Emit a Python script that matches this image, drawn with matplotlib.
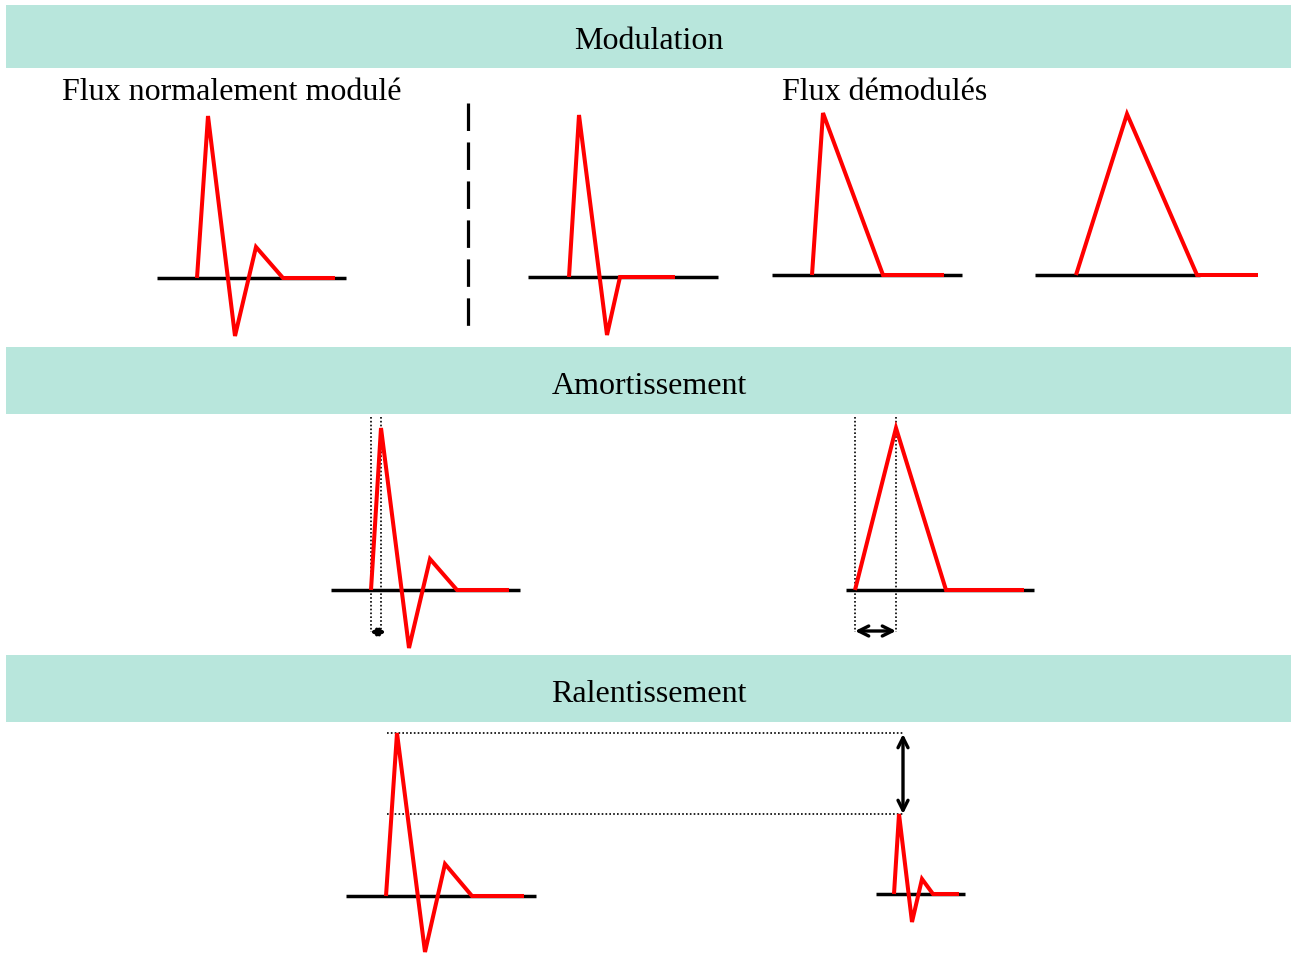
import matplotlib.pyplot as plt

# banners: (label, top, bottom, text baseline)
banner_labels = ['Modulation', 'Amortissement', 'Ralentissement']
banner_top = [5, 347, 655]
banner_bottom = [68, 414, 722]
banner_text_y = [48, 393, 701]

# baselines (x0, x1, y)
base_x0 = [157, 528, 772, 1035, 331, 846, 346, 876]
base_x1 = [346, 718, 962, 1200, 520, 1034, 536, 965]
base_y = [278, 277, 275, 275, 590, 590, 896, 894]

# red waveforms
wave_x = [
    [197, 208, 235, 256, 283, 335],
    [569, 579, 607, 620, 675],
    [812, 823, 883, 944],
    [1076, 1127, 1197, 1258],
    [371, 381, 409, 430, 457, 509],
    [855, 896, 946, 1024],
    [386, 397, 425, 445, 472, 524],
    [894, 899, 912, 922, 933, 959],
]
wave_y = [
    [278, 116, 336, 247, 278, 278],
    [277, 115, 335, 277, 277],
    [275, 113, 275, 275],
    [275, 114, 275, 275],
    [590, 428, 648, 559, 590, 590],
    [590, 428, 590, 590],
    [896, 733, 952, 864, 896, 896],
    [894, 814, 922, 879, 894, 894],
]

# dotted guides
vguide_x = [371, 381, 855, 896]
vguide_y0, vguide_y1 = 417, 632
hguide_y = [733, 814]
hguide_x0, hguide_x1 = 387, 903

fig = plt.figure(figsize=(12.91, 9.54), dpi=100)
ax = fig.add_axes([0, 0, 1, 1])
ax.set_xlim(0, 1291)
ax.set_ylim(953, -1)
ax.axis('off')

serif = 'Liberation Serif'

for label, top, bot, ty in zip(banner_labels, banner_top, banner_bottom, banner_text_y):
    ax.fill_between([6, 1291], top, bot, color='#b8e6dc', lw=0)
    ax.text(649, ty, label, ha='center', va='baseline', fontsize=23, family=serif)

ax.text(232, 99, 'Flux normalement modulé', ha='center', va='baseline', fontsize=23, family=serif)
ax.text(885, 99, 'Flux démodulés', ha='center', va='baseline', fontsize=23, family=serif)

# dashed separator
ax.plot([468, 468], [103, 328], color='black', lw=2.3, dashes=(8.6, 3.6))

for x0, x1, y in zip(base_x0, base_x1, base_y):
    ax.plot([x0, x1], [y, y], color='black', lw=2.5, solid_capstyle='butt', zorder=2)

for xs, ys in zip(wave_x, wave_y):
    ax.plot(xs, ys, color='red', lw=2.9, solid_joinstyle='miter', solid_capstyle='butt', zorder=3)

for x in vguide_x:
    ax.plot([x, x], [vguide_y0, vguide_y1], color='black', lw=1.2, ls=(0, (1, 1.3)), zorder=1)
for y in hguide_y:
    ax.plot([hguide_x0, hguide_x1], [y, y], color='black', lw=1.2, ls=(0, (1, 1.3)), zorder=1)

# arrows
ax.annotate('', xy=(370, 632), xytext=(386, 632),
            arrowprops=dict(arrowstyle='<->', lw=2.4, color='black', mutation_scale=10,
                            shrinkA=0, shrinkB=0))
ax.annotate('', xy=(855, 631), xytext=(896, 631),
            arrowprops=dict(arrowstyle='<->', lw=2.4, color='black', mutation_scale=18,
                            shrinkA=0, shrinkB=0))
ax.annotate('', xy=(903, 734), xytext=(903, 814),
            arrowprops=dict(arrowstyle='<->', lw=2.4, color='black', mutation_scale=18,
                            shrinkA=0, shrinkB=0))

fig.savefig('out.png', dpi=100)
